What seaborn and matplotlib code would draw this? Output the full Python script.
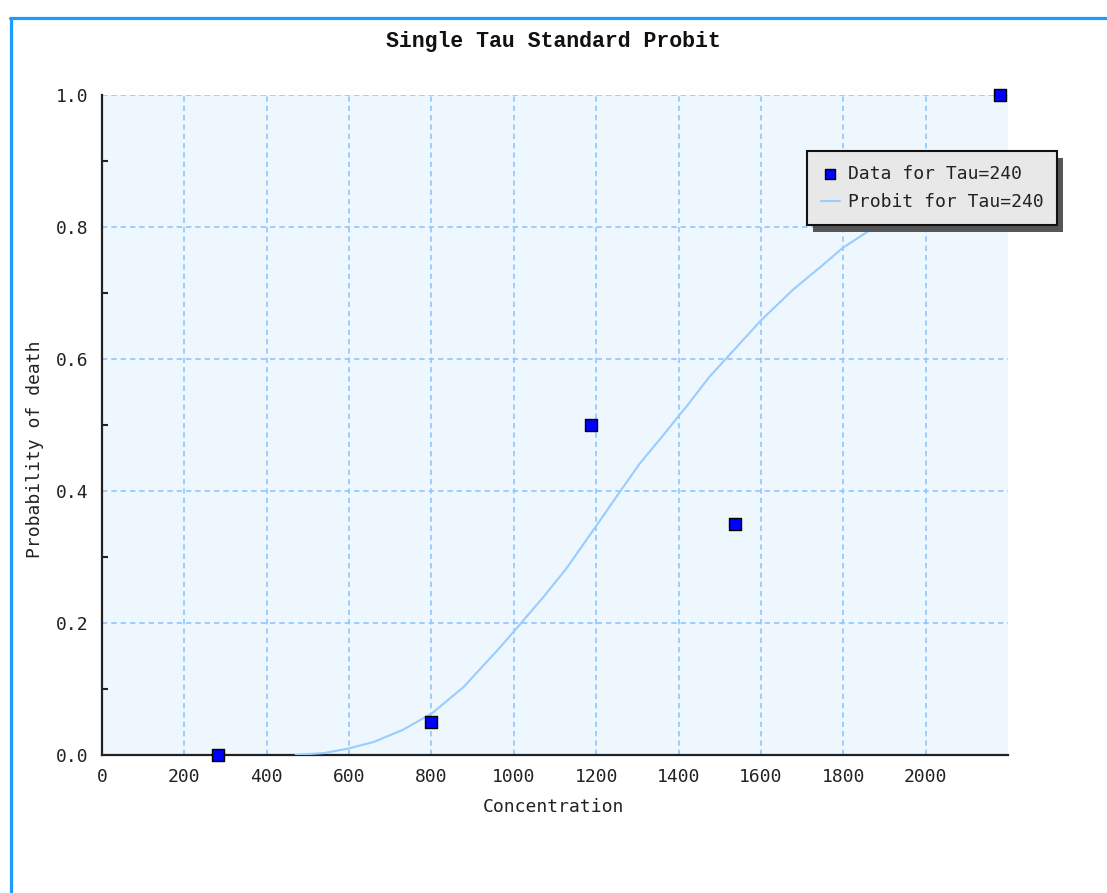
import matplotlib
matplotlib.use("Agg")
import matplotlib.pyplot as plt
from matplotlib.lines import Line2D
from matplotlib.patches import Rectangle
import seaborn as sns
import numpy as np

# ---- data ----
data_x = [281, 800, 1188, 1538, 2180]
data_y = [0.0, 0.05, 0.50, 0.35, 1.0]

curve_x = [470, 540, 600, 661, 730, 801, 878, 965, 1015, 1070, 1127, 1200,
           1260, 1305, 1370, 1398, 1418, 1475, 1516, 1601, 1678, 1759, 1798,
           1864, 2000, 2200]
curve_y = [0.0, 0.003, 0.010, 0.020, 0.038, 0.063, 0.103, 0.162, 0.198,
           0.238, 0.282, 0.347, 0.401, 0.441, 0.490, 0.512, 0.527, 0.573,
           0.601, 0.659, 0.705, 0.747, 0.768, 0.795, 0.84, 0.89]

x_ticks = [0, 200, 400, 600, 800, 1000, 1200, 1400, 1600, 1800, 2000]
y_ticks = [0.0, 0.2, 0.4, 0.6, 0.8, 1.0]
y_tick_labels = ["0.0", "0.2", "0.4", "0.6", "0.8", "1.0"]
y_minor = [0.1, 0.3, 0.5, 0.7, 0.9]

title = "Single Tau Standard Probit"
xlabel = "Concentration"
ylabel = "Probability of death"
data_label = "Data for Tau=240"
curve_label = "Probit for Tau=240"

# ---- style ----
sns.set_style("white")
plt.rcParams["font.family"] = ["DejaVu Sans Mono", "DejaVu Sans"]

W, H = 1107, 893
fig = plt.figure(figsize=(W / 100, H / 100), dpi=100)
fig.patch.set_facecolor("white")

L, R, T, B = 102, 1008, 95, 755
ax = fig.add_axes([L / W, 1 - B / H, (R - L) / W, (B - T) / H])
ax.set_facecolor("#EEF6FE")

grid_col = "#8FC6FF"
curve_col = "#99CCFF"

sns.lineplot(x=curve_x, y=curve_y, ax=ax, color=curve_col, linewidth=1.5,
             label=curve_label, zorder=3)
sns.scatterplot(x=data_x, y=data_y, ax=ax, marker="s", s=85, color="#0000FF",
                edgecolor="black", linewidth=1.0, label=data_label,
                clip_on=False, zorder=6)

ax.set_xlim(0, 2200)
ax.set_ylim(0, 1)
ax.set_xticks(x_ticks)
ax.set_xticklabels([str(v) for v in x_ticks])
ax.set_yticks(y_ticks)
ax.set_yticklabels(y_tick_labels)
ax.set_yticks(y_minor, minor=True)

ax.grid(True, which="major", color=grid_col, linestyle=(0, (3.2, 2.4)),
        linewidth=1.2, zorder=1)
ax.set_axisbelow(True)

for s in ["top", "right"]:
    ax.spines[s].set_visible(False)
for s in ["left", "bottom"]:
    ax.spines[s].set_color("#222222")
    ax.spines[s].set_linewidth(1.6)

ax.tick_params(axis="x", which="major", length=0, pad=9, labelsize=13,
               labelcolor="#222222")
ax.tick_params(axis="y", which="major", direction="in", length=7, width=1.5,
               pad=10, labelsize=13, labelcolor="#222222", color="#222222")
ax.tick_params(axis="y", which="minor", direction="in", length=4, width=1.5,
               color="#222222", left=True)
ax.set_xlabel("")
ax.set_ylabel("")

# texts
fig.text(553 / W, 1 - 42 / H, title, ha="center", va="center",
         fontsize=15.5, fontweight="bold", family=["Liberation Mono", "DejaVu Sans Mono"],
         color="#111111")
fig.text(553 / W, 1 - 807 / H, xlabel, ha="center", va="center",
         fontsize=13, color="#222222")
fig.text(35 / W, 1 - 449 / H, ylabel, ha="center", va="center",
         fontsize=13, rotation=90, color="#222222")

# legend
if ax.get_legend() is not None:
    ax.get_legend().remove()
h, l = ax.get_legend_handles_labels()
order = [l.index(data_label), l.index(curve_label)]
leg = fig.legend([h[i] for i in order], [l[i] for i in order],
                 loc="upper left", bbox_to_anchor=(807 / W, 1 - 151 / H),
                 bbox_transform=fig.transFigure, borderaxespad=0,
                 fontsize=13, frameon=True, fancybox=False, framealpha=1,
                 facecolor="#E8E8E8", edgecolor="#111111",
                 handlelength=1.1, handletextpad=0.4, borderpad=0.75,
                 labelspacing=0.6, markerscale=0.8)
leg.get_frame().set_linewidth(1.5)
leg.set_zorder(10)
for t in leg.get_texts():
    t.set_color("#222222")

fig.canvas.draw()
bb = leg.get_window_extent()
shadow = Rectangle((bb.x0 + 6, bb.y0 - 7), bb.width, bb.height,
                   transform=None, facecolor="#555555", edgecolor="none",
                   zorder=9.9)
fig.add_artist(shadow)

# blue frame of the screenshot
border = "#1E9BFF"
fig.add_artist(Line2D([10.5 / W, 10.5 / W], [0, 1 - 17.5 / H],
                      transform=fig.transFigure, color=border, linewidth=2.3))
fig.add_artist(Line2D([9.5 / W, 1], [1 - 17.5 / H, 1 - 17.5 / H],
                      transform=fig.transFigure, color=border, linewidth=2.3))

fig.savefig("out.png", dpi=100)
